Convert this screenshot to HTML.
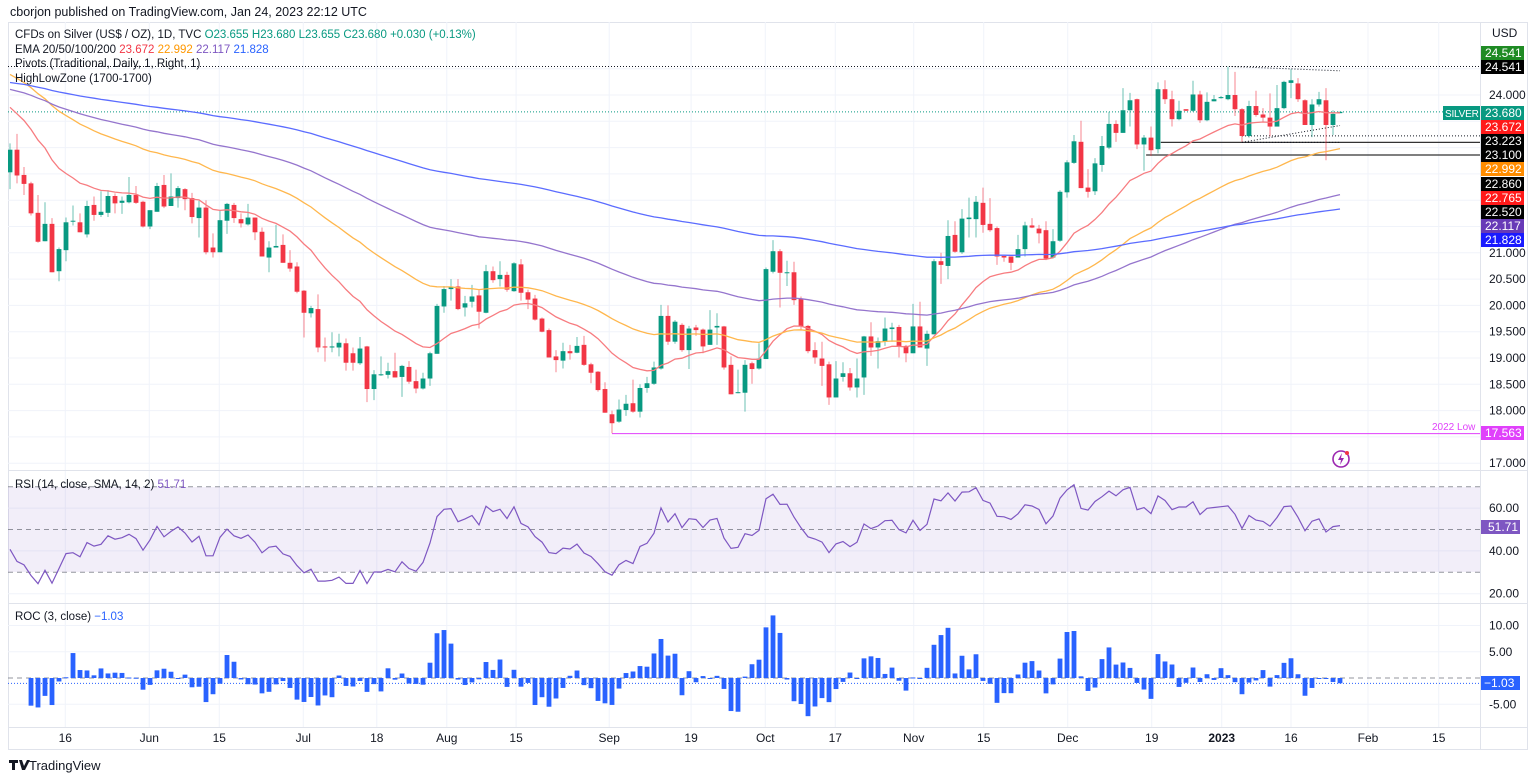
<!DOCTYPE html>
<html><head><meta charset="utf-8">
<style>
html,body{margin:0;padding:0;background:#fff;}
body{width:1536px;height:779px;overflow:hidden;font-family:"Liberation Sans",sans-serif;}
svg text{font-family:"Liberation Sans",sans-serif;}
</style></head>
<body>
<svg id="chart" width="1536" height="779" viewBox="0 0 1536 779" xmlns="http://www.w3.org/2000/svg">
<defs><clipPath id="mainclip"><rect x="8" y="22" width="1472" height="448"/></clipPath></defs>
<text x="10" y="16" font-size="12.5" fill="#131722">cborjon published on TradingView.com, Jan 24, 2023 22:12 UTC</text>
<rect x="8.5" y="22.5" width="1519" height="727" fill="none" stroke="#e0e3eb"/>
<g id="grid"></g>
<rect x="8" y="487" width="1472" height="85" fill="#7e57c2" fill-opacity="0.1"/>
<g id="overlay" clip-path="url(#mainclip)"></g>
<g id="candles" clip-path="url(#mainclip)"></g>
<g id="emas" clip-path="url(#mainclip)"></g>
<g id="rsi"></g>
<g id="roc"></g>
<line x1="8" y1="470.5" x2="1527" y2="470.5" stroke="#e0e3eb"/>
<line x1="8" y1="603.5" x2="1527" y2="603.5" stroke="#e0e3eb"/>
<line x1="8" y1="727.5" x2="1527" y2="727.5" stroke="#e0e3eb"/>
<line x1="1480.5" y1="22" x2="1480.5" y2="749" stroke="#e0e3eb"/>
<g id="xaxis"></g>
<g id="yaxis"></g>

<g font-size="11.5">
<text x="15" y="38" fill="#131722">CFDs on Silver (US$ / OZ), 1D, TVC <tspan fill="#089981">O23.655</tspan> <tspan fill="#089981">H23.680</tspan> <tspan fill="#089981">L23.655</tspan> <tspan fill="#089981">C23.680</tspan> <tspan fill="#089981">+0.030 (+0.13%)</tspan></text>
<text x="15" y="53" fill="#131722">EMA 20/50/100/200 <tspan fill="#f23645">23.672</tspan> <tspan fill="#ff9800">22.992</tspan> <tspan fill="#7e57c2">22.117</tspan> <tspan fill="#2962ff">21.828</tspan></text>
<text x="15" y="67" fill="#131722">Pivots (Traditional, Daily, 1, Right, 1)</text>
<text x="15" y="82" fill="#131722">HighLowZone (1700-1700)</text>
<text x="15" y="488" fill="#131722">RSI (14, close, SMA, 14, 2) <tspan fill="#7e57c2">51.71</tspan></text>
<text x="15" y="620" fill="#131722">ROC (3, close) <tspan fill="#2962ff">−1.03</tspan></text>
</g>

<g font-size="12">
<text x="1492" y="37" fill="#131722">USD</text>
<rect x="1481" y="46" width="43" height="14" fill="#1f8b24"/><text x="1485" y="57" fill="#fff">24.541</text>
<rect x="1481" y="60" width="43" height="14" fill="#000"/><text x="1485" y="71" fill="#fff">24.541</text>
<rect x="1443" y="106" width="37" height="14" fill="#089981"/><text x="1445" y="117" fill="#fff" font-size="10" letter-spacing="-0.2">SILVER</text>
<rect x="1481" y="106" width="43" height="14" fill="#089981"/><text x="1485" y="117" fill="#fff">23.680</text>
<rect x="1481" y="120" width="43" height="14" fill="#ff1a1a"/><text x="1485" y="131" fill="#fff">23.672</text>
<rect x="1481" y="134" width="43" height="14" fill="#000"/><text x="1485" y="145" fill="#fff">23.223</text>
<rect x="1481" y="148" width="43" height="14" fill="#000"/><text x="1485" y="159" fill="#fff">23.100</text>
<rect x="1481" y="162" width="43" height="14" fill="#ff8c00"/><text x="1485" y="173" fill="#fff">22.992</text>
<rect x="1481" y="177" width="43" height="14" fill="#000"/><text x="1485" y="188" fill="#fff">22.860</text>
<rect x="1481" y="191" width="43" height="14" fill="#ff1a1a"/><text x="1485" y="202" fill="#fff">22.765</text>
<rect x="1481" y="205" width="43" height="14" fill="#000"/><text x="1485" y="216" fill="#fff">22.520</text>
<rect x="1481" y="219" width="43" height="14" fill="#673ab7"/><text x="1485" y="230" fill="#fff">22.117</text>
<rect x="1481" y="233" width="43" height="14" fill="#1a1aff"/><text x="1485" y="244" fill="#fff">21.828</text>
<rect x="1481" y="426" width="43" height="14" fill="#e040fb"/><text x="1485" y="437" fill="#fff">17.563</text>
<text x="1432" y="430" fill="#e040fb" font-size="10">2022 Low</text>
<rect x="1481" y="520" width="39" height="14" fill="#7e57c2"/><text x="1488" y="531" fill="#fff">51.71</text>
<rect x="1481" y="676" width="39" height="14" fill="#2962ff"/><text x="1484" y="687" fill="#fff">−1.03</text>
</g>

<g>
<circle cx="1341" cy="459" r="8" fill="none" stroke="#9c27b0" stroke-width="1.6"/>
<path d="M1342 453 L1338 460 L1341 460 L1340 465 L1344 458 L1341 458 Z" fill="#9c27b0"/>
<circle cx="1347" cy="453" r="2" fill="#f23645"/>
</g>
<g>
<path d="M9 760 h9 v3 h-3 v7 h-3 v-7 h-3 z M19 760 h3 l2 6 l3 -6 h3 l-5 10 h-3 z" fill="#131722"/>
<text x="29" y="770" font-size="13" fill="#131722">TradingView</text>
</g>
</svg>
<script>
const opens=[22.53,22.96,22.48,22.32,21.76,21.22,21.55,20.65,21.05,21.60,
21.58,21.35,21.91,21.72,21.76,22.08,21.95,21.96,22.10,21.97,
21.50,21.78,22.29,21.89,22.04,22.21,22.04,21.66,21.86,21.10,
21.01,21.61,21.91,21.64,21.54,21.67,21.40,20.91,21.10,21.15,
20.81,20.74,20.28,19.85,19.93,19.22,19.20,19.20,19.28,19.09,
18.90,19.22,18.41,18.68,18.68,18.75,18.64,18.83,18.56,18.42,
18.61,19.08,19.98,20.31,20.36,19.96,20.07,20.19,19.86,20.65,
20.50,20.58,20.27,20.78,20.25,20.13,19.75,19.53,19.03,18.95,
19.13,19.10,19.25,18.88,18.74,18.41,17.93,17.79,18.01,18.14,
17.98,18.43,18.51,18.80,19.80,19.31,19.63,19.15,19.58,19.54,
19.25,19.58,19.60,18.87,18.34,18.34,18.90,18.80,18.98,20.64,
21.03,20.63,20.63,20.13,19.61,19.15,18.99,18.88,18.25,18.64,
18.71,18.44,18.63,19.41,19.20,19.31,19.55,19.59,19.23,19.09,
19.60,19.18,19.45,20.84,20.75,21.34,21.01,21.64,21.64,21.95,
21.55,21.47,20.94,20.93,20.91,21.07,21.52,21.46,21.43,20.91,
21.23,22.15,22.71,23.11,22.24,22.17,22.67,23.00,23.45,23.28,
23.71,23.92,23.06,23.19,22.97,24.11,23.92,23.54,23.73,23.70,
24.01,23.52,23.88,23.94,23.92,24.00,23.73,23.22,23.79,23.63,
23.57,23.40,23.75,24.23,24.22,23.90,23.43,23.82,23.90,23.43,
23.655];
const closes=[22.96,22.47,22.31,21.75,21.21,21.55,20.63,21.07,21.58,21.61,
21.39,21.89,21.72,21.78,22.08,21.94,21.99,22.10,21.95,21.50,
21.81,22.27,21.88,22.07,22.23,22.02,21.68,21.86,21.01,21.01,
21.62,21.93,21.66,21.56,21.67,21.39,20.93,21.10,21.13,20.81,
20.70,20.26,19.86,19.95,19.20,19.20,19.22,19.29,18.91,18.91,
19.18,18.41,18.69,18.69,18.75,18.63,18.85,18.55,18.42,18.61,
19.09,19.99,20.31,20.34,19.93,20.04,20.17,19.88,20.65,20.48,
20.58,20.30,20.80,20.24,20.11,19.73,19.50,19.01,18.96,19.13,
19.09,19.23,18.87,18.72,18.39,17.96,17.76,18.02,18.13,17.98,
18.43,18.52,18.82,19.80,19.31,19.69,19.15,19.56,19.53,19.22,
19.54,19.61,18.82,18.31,18.35,18.87,18.79,18.99,20.69,21.03,
20.62,20.63,20.10,19.60,19.13,19.01,18.85,18.25,18.61,18.71,
18.44,18.61,19.41,19.20,19.32,19.56,19.58,19.22,19.09,19.60,
19.20,19.46,20.84,20.77,21.32,21.02,21.65,21.67,21.97,21.53,
21.43,20.93,20.91,20.81,21.07,21.52,21.48,21.37,20.89,21.22,
22.16,22.72,23.12,22.23,22.16,22.70,23.03,23.45,23.28,23.71,
23.90,23.06,23.19,22.95,24.11,23.92,23.54,23.70,23.70,24.01,
23.52,23.87,23.92,23.96,24.00,23.73,23.22,23.79,23.62,23.57,
23.40,23.75,24.25,24.28,23.92,23.43,23.82,23.92,23.43,23.64,
23.68];
const highs=[23.08,23.26,22.63,22.35,22.10,21.96,21.66,21.10,21.67,21.90,
21.75,21.99,22.07,22.17,22.19,22.13,22.07,22.44,22.27,21.99,
21.81,22.33,22.48,22.51,22.27,22.23,22.14,21.99,22.00,21.37,
21.81,21.95,21.95,21.75,21.93,21.67,21.48,21.22,21.53,21.35,
21.05,20.82,20.29,19.99,20.21,19.39,19.49,19.46,19.37,19.20,
19.40,19.23,18.77,19.03,18.91,19.10,18.87,18.94,18.78,18.72,
19.12,20.03,20.37,20.50,20.50,20.18,20.39,20.30,20.77,20.74,
20.84,20.64,20.82,20.88,20.30,20.20,19.77,19.56,19.15,19.29,
19.25,19.40,19.42,18.91,18.75,18.54,18.00,18.21,18.30,18.59,
18.50,18.64,18.93,20.01,20.00,19.72,19.66,19.61,19.63,19.56,
19.91,19.85,19.61,19.03,18.78,18.96,18.93,19.28,20.72,21.24,
21.07,20.85,20.83,20.17,19.63,19.30,19.31,18.93,18.94,18.92,
18.81,18.99,19.42,19.68,19.39,19.77,19.67,19.63,19.25,20.03,
20.07,19.52,20.88,21.00,21.62,21.60,21.83,22.05,22.08,22.24,
22.04,21.50,20.94,20.93,21.34,21.59,21.66,21.53,21.60,21.45,
22.19,22.76,23.24,23.51,22.59,22.80,23.22,23.68,23.52,24.13,
24.04,23.93,23.24,23.40,24.24,24.28,24.08,23.89,23.73,24.27,
24.08,24.05,24.00,23.98,24.54,24.44,23.75,23.89,24.08,23.75,
24.03,24.19,24.27,24.49,24.32,23.92,23.92,24.06,24.13,23.71,
23.68];
const lows=[22.21,22.32,22.10,21.71,21.19,21.22,20.63,20.46,20.84,21.52,
21.39,21.29,21.61,21.68,21.68,21.75,21.74,21.94,21.93,21.48,
21.45,21.78,21.85,21.89,21.86,21.81,21.56,21.29,20.97,20.91,
21.01,21.36,21.57,21.48,21.52,21.24,20.93,20.63,21.10,20.81,
20.64,20.23,19.39,19.77,19.11,18.93,19.11,19.03,18.76,18.76,
18.87,18.16,18.20,18.66,18.61,18.63,18.26,18.51,18.33,18.40,
18.47,19.08,19.86,20.09,19.91,19.79,19.96,19.56,19.85,20.43,
20.36,20.26,20.26,20.09,19.93,19.71,19.49,19.01,18.73,18.80,
18.97,19.09,18.85,18.52,18.36,17.96,17.57,17.77,17.90,17.96,
17.87,18.34,18.49,18.78,19.25,19.27,19.12,18.79,19.42,19.09,
19.25,19.25,18.78,18.31,18.33,17.98,18.51,18.78,18.98,20.61,
19.96,20.37,20.01,19.52,19.09,18.89,18.47,18.11,18.25,18.55,
18.38,18.25,18.30,19.04,18.80,19.23,19.31,19.01,18.92,19.09,
19.20,18.85,19.45,20.41,20.50,21.00,20.98,21.29,21.29,21.38,
21.40,20.77,20.83,20.67,20.91,20.93,21.47,21.18,20.86,20.89,
21.21,22.05,22.69,22.23,22.05,22.10,22.54,22.97,23.11,23.28,
23.40,22.97,22.56,22.84,22.89,23.83,23.40,23.52,23.70,23.68,
23.47,23.50,23.88,23.93,23.90,23.60,23.11,23.19,23.59,23.49,
23.21,23.40,23.73,23.94,23.87,23.43,23.20,23.78,22.76,23.24,
23.655];
const emaPeriods=[20,50,100,200];
const emaSeeds=[23.85,24.45,24.13,24.25];
const emaColors=['#f77c80','#ffb74d','#9575cd','#5b6cff'];
const priceTicks=[24,21,20.5,20,19.5,19,18.5,18,17];
const priceGrid=[24.5,24,23.5,23,22.5,22,21.5,21,20.5,20,19.5,19,18.5,18,17.5,17];
const rsiTicks=[60,40,20];
const rocTicks=[10,5,-5];
const timeLabels=['16','Jun','15','Jul','18','Aug','15','Sep','19','Oct','17','Nov','15','Dec','19','2023','16','Feb','15'];
const timeLabelBars=[7.9,19.9,29.9,41.9,52.4,62.4,72.3,85.6,97.3,107.9,117.9,129.1,139.1,151.1,163.1,173.1,183,194,204.1];
const pivotLevels=[23.223,23.10,22.86];
const pivotStartBars=[176,164.4,162.3];
const lastPrice=23.68;
const pivotR=24.541;
const low2022=17.563;
const low2022Bar=86;

const NS='http://www.w3.org/2000/svg';
const xOf=i=>10+i*7;
const yP=p=>95+(24-p)*52.6;
const yR=v=>529.5-(v-50)*2.14;
const yC=v=>678-v*5.25;
function mk(tag,attrs,parent){const e=document.createElementNS(NS,tag);for(const k in attrs)e.setAttribute(k,attrs[k]);parent.appendChild(e);return e;}
const grid=document.getElementById('grid');
priceGrid.forEach(p=>{const e=mk('line',{x1:8,x2:1480,y1:yP(p),y2:yP(p),stroke:'#f0f3fa'},grid);

});
timeLabelBars.forEach(b=>{const e=mk('line',{x1:xOf(b),x2:xOf(b),y1:22,y2:727,stroke:'#f0f3fa'},grid);

});
rsiTicks.forEach(v=>{const e=mk('line',{x1:8,x2:1480,y1:yR(v),y2:yR(v),stroke:'#f0f3fa'},grid);

});
rocTicks.forEach(v=>{const e=mk('line',{x1:8,x2:1480,y1:yC(v),y2:yC(v),stroke:'#f0f3fa'},grid);

});
const ov=document.getElementById('overlay');
let e;
e=mk('line',{x1:8,x2:1480,y1:yP(lastPrice),y2:yP(lastPrice),stroke:'#089981','stroke-dasharray':'1 2'},ov);


e=mk('line',{x1:8,x2:1480,y1:yP(pivotR),y2:yP(pivotR),stroke:'#131722','stroke-dasharray':'1 2'},ov);


pivotLevels.forEach((p,k)=>{const l=mk('line',{x1:xOf(pivotStartBars[k]),x2:1480,y1:yP(p),y2:yP(p),stroke:k===0?'#131722':'#333',
 'stroke-dasharray':k===0?'1 2':'none','stroke-width':k===0?1:1.3},ov);

});
e=mk('line',{x1:xOf(176),x2:xOf(190),y1:yP(23.10),y2:yP(23.10),stroke:'#131722','stroke-dasharray':'1 2'},ov);


e=mk('line',{x1:xOf(176),x2:xOf(190),y1:yP(23.10),y2:yP(23.42),stroke:'#131722','stroke-dasharray':'1 2'},ov);


e=mk('line',{x1:xOf(174.5),x2:xOf(190),y1:yP(24.541),y2:yP(24.46),stroke:'#131722','stroke-dasharray':'1 2'},ov);


e=mk('line',{x1:xOf(low2022Bar),x2:1480,y1:yP(low2022),y2:yP(low2022),stroke:'#e040fb','stroke-width':1},ov);


const cg=document.getElementById('candles');
closes.forEach((c,i)=>{const o=opens[i],up=c>=o,col=up?'#089981':'#f23645',x=xOf(i);
 const w=mk('line',{x1:x,x2:x,y1:yP(highs[i]),y2:yP(lows[i]),stroke:col,'stroke-opacity':0.6},cg);
 
 
 const top=yP(Math.max(o,c)),h=Math.max(1,Math.abs(yP(o)-yP(c)));
 const b=mk('rect',{x:x-2.4,y:top,width:4.8,height:h,fill:col},cg);
 
 });
const eg=document.getElementById('emas');
emaPeriods.forEach((n,k)=>{let v=emaSeeds[k];const a=2/(n+1);let d='';
 closes.forEach((c,i)=>{v=v+a*(c-v);d+=(i?'L':'M')+xOf(i).toFixed(1)+' '+yP(v).toFixed(1);});
 const p=mk('path',{d:d,fill:'none',stroke:emaColors[k],'stroke-width':1.3},eg);
 
 });
const rg=document.getElementById('rsi');
[70,50,30].forEach(v=>{const l=mk('line',{x1:8,x2:1480,y1:yR(v),y2:yR(v),stroke:'#787b86','stroke-dasharray':'5 4','stroke-opacity':0.8},rg);

});
let ag=0.07,al=0.15,prev=opens[0],rd='';
closes.forEach((c,i)=>{const ch=c-prev;prev=c;ag=(ag*13+Math.max(ch,0))/14;al=(al*13+Math.max(-ch,0))/14;
 const r=100-100/(1+ag/al);rd+=(i?'L':'M')+xOf(i).toFixed(1)+' '+yR(r).toFixed(1);});
e=mk('path',{d:rd,fill:'none',stroke:'#7e57c2','stroke-width':1.2},rg);


const og=document.getElementById('roc');
e=mk('line',{x1:8,x2:1480,y1:yC(0),y2:yC(0),stroke:'#787b86','stroke-dasharray':'5 4','stroke-opacity':0.8},og);


closes.forEach((c,i)=>{if(i<3)return;const v=100*(c/closes[i-3]-1);const y0=yC(0),y1=yC(v);
 const b=mk('rect',{x:xOf(i)-2.4,y:Math.min(y0,y1),width:4.8,height:Math.max(1,Math.abs(y1-y0)),fill:'#2962ff'},og);
 
 });
e=mk('line',{x1:8,x2:1480,y1:yC(-1.03),y2:yC(-1.03),stroke:'#2962ff','stroke-dasharray':'1 2'},og);


const xa=document.getElementById('xaxis');
timeLabels.forEach((t,k)=>{const tx=mk('text',{x:xOf(timeLabelBars[k]),y:742,'text-anchor':'middle','font-size':12,fill:'#131722','font-weight':t==='2023'?'bold':'normal'},xa);
 tx.textContent=t;
 
 });
const ya=document.getElementById('yaxis');
priceTicks.forEach(p=>{const tx=mk('text',{x:1489,y:yP(p)+4,'font-size':12,fill:'#131722'},ya);
 tx.textContent=p.toFixed(3);
 
 });
rsiTicks.forEach(v=>{const tx=mk('text',{x:1489,y:yR(v)+4,'font-size':12,fill:'#131722'},ya);
 tx.textContent=v.toFixed(2);
 
 });
rocTicks.forEach(v=>{const tx=mk('text',{x:1489,y:yC(v)+4,'font-size':12,fill:'#131722'},ya);
 tx.textContent=v.toFixed(2);
 
 });
</script>
</body></html>
